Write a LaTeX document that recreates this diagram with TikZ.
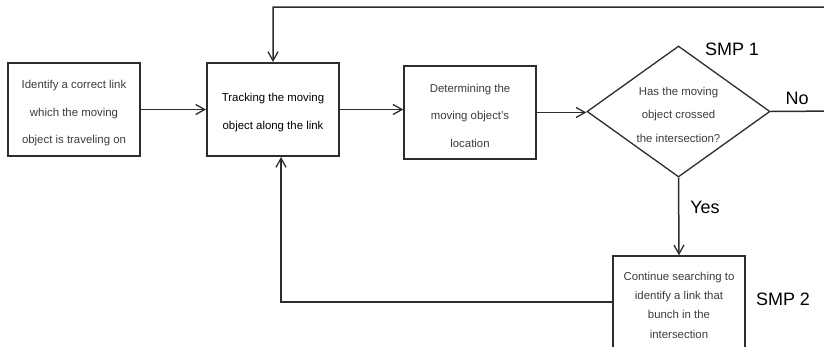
\documentclass[tikz,border=0pt]{standalone}
\usepackage{fontspec}
\setmainfont{Liberation Sans}
\usetikzlibrary{shapes.geometric,arrows.meta}
\definecolor{linec}{RGB}{45,45,45}
\definecolor{txtc}{RGB}{60,60,60}
\begin{document}
\begin{tikzpicture}[x=1pt,y=-1pt,
  box/.style={draw=linec,line width=1.3pt,fill=white,inner sep=0pt,minimum width=132pt,minimum height=93pt},
  txt/.style={inner sep=0pt,align=center,text=txtc,font=\fontsize{11.4}{27.5}\selectfont},
  conn/.style={draw=linec,line width=1.5pt,-{Straight Barb[length=9pt,width=10pt,line width=1.3pt]}},
  lbl/.style={inner sep=0pt,font=\fontsize{18}{20}\selectfont,text=black}]
\useasboundingbox (0,0) rectangle (824,346);
\clip (0,0) rectangle (824,346);
\fill[white] (0,0) rectangle (824,346);
\node[box] (b1) at (74,109.5) {};
\node[txt] (t1) at ([yshift=-4pt]b1.center)
  {Identify a correct link\\which the moving\\object is traveling on};
\node[box,line width=2pt] (b2) at (273,109.5) {};
\node[txt,text=black] (t2) at ([yshift=-3pt]b2.center)
  {Tracking the moving\\object along the link};
\node[box] (b3) at (470,112.5) {};
\node[txt] (t3) at ([yshift=-3pt]b3.center)
  {Determining the\\moving object's\\location};
\node[draw=linec,line width=1.3pt,fill=white,diamond,inner sep=0pt,minimum width=183pt,minimum height=131pt] (d) at (678.5,111.5) {};
\node[txt,font=\fontsize{11.4}{23.5}\selectfont] (dtext) at ([yshift=-3pt]d.center)
  {Has the moving\\object crossed\\the intersection?};
\node[box,minimum height=98pt] (b5) at (679,305) {};
\node[txt,font=\fontsize{11.4}{19.3}\selectfont] (t5) at (b5.center)
  {Continue searching to\\identify a link that\\bunch in the\\intersection};
\node[lbl] (smp1) at (732,49) {SMP 1};
\node[lbl] (no) at (797,98) {No};
\node[lbl] (yes) at (705,207) {Yes};
\node[lbl] (smp2) at (783,299) {SMP 2};
\coordinate (rOut) at (840,111);
\coordinate (tLoop) at (840,7);
\coordinate (bTurn) at (281,302);
\draw[conn] (b1.east) -- (b2.west);
\draw[conn] (b2.east) -- (b2.east -| b3.west);
\draw[conn] (b3.east) -- (b3.east -| d.west);
\draw[conn] (d.east) -- (rOut) -- (tLoop) -| (b2.north);
\draw[conn] (d.south) -- (b5.north);
\draw[conn] (b5.west |- bTurn) -- (bTurn) -- (bTurn |- b2.south);
\end{tikzpicture}
\end{document}
